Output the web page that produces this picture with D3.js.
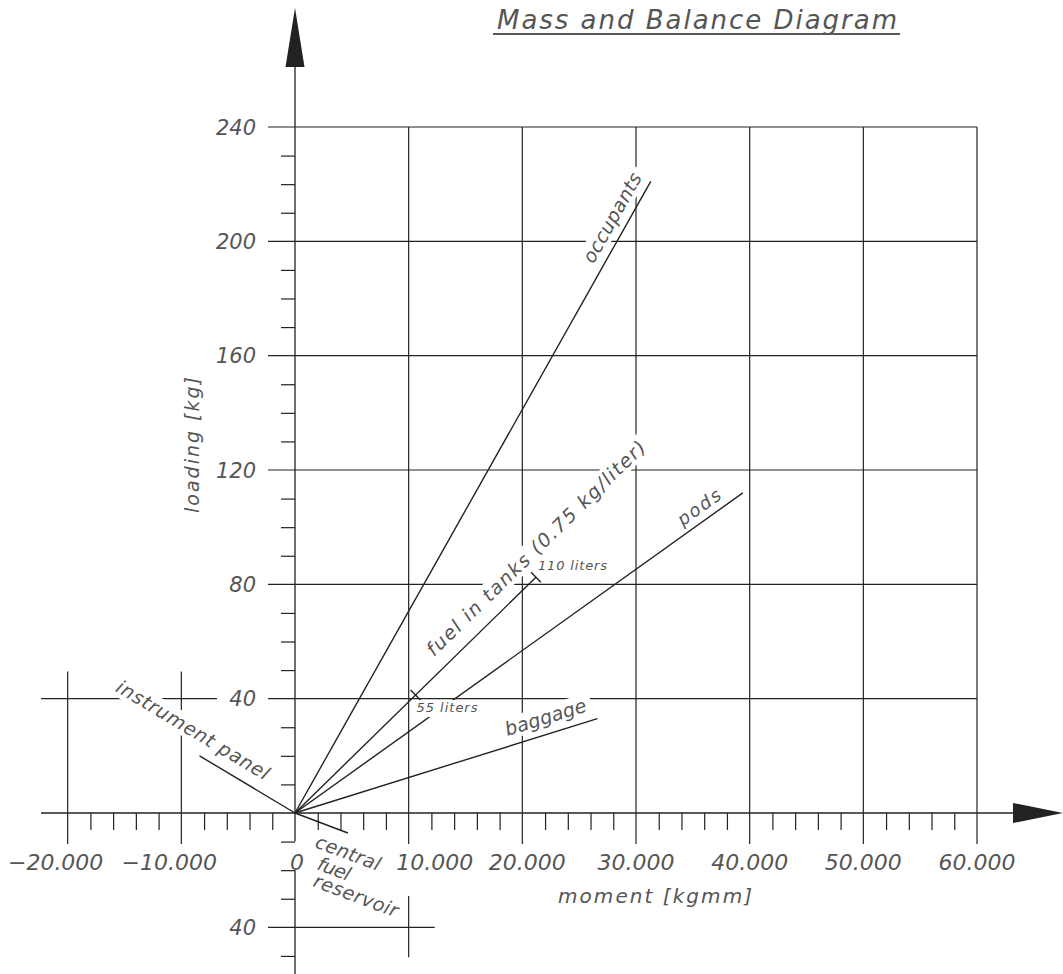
<!DOCTYPE html>
<html><head><meta charset="utf-8">
<script src="https://cdn.jsdelivr.net/npm/d3@7"></script>
<style>
body{margin:0;background:#fff}
text{font-family:"DejaVu Sans","Open Sans",sans-serif;font-style:italic;font-weight:200;fill:#555}
</style></head><body>
<svg id="c" width="1063" height="974"></svg>
<script>
// ---------------- data ----------------
const lineNames   = ["occupants", "fuel in tanks", "pods", "baggage", "instrument panel", "central fuel reservoir"];
const endMoments  = [31300, 21200, 39400, 26600, -8400, 4650];   // kgmm
const endLoads    = [221, 82.5, 112, 33, 20, -7];                 // kg (negative: drawn below axis)
const fuelDensity = 0.75;                                         // kg/liter
const fuelMarkLiters  = [55, 110];
const fuelMarkMoments = [10600, 21200];
const xTickValues = [-20000, -10000, 0, 10000, 20000, 30000, 40000, 50000, 60000];
const xTickLabels = ["\u221220.000", "\u221210.000", "0", "10.000", "20.000", "30.000", "40.000", "50.000", "60.000"];
const yTickValues = [40, 80, 120, 160, 200, 240];
const yTickLabels = ["40", "80", "120", "160", "200", "240"];
const lowerTickValues = [-40];
const lowerTickLabels = ["40"];
const titleText = "Mass and Balance Diagram";
const xTitle = "moment [kgmm]";
const yTitle = "loading [kg]";

// ---------------- layout ----------------
const x = d3.scaleLinear().domain([0, 60000]).range([295, 977]);
const y = d3.scaleLinear().domain([0, 240]).range([813, 127]);
const INK = "#222";
const svg = d3.select("#c");
const gGrid = svg.append("g").attr("stroke", INK).attr("stroke-width", 1.2).attr("fill", "none");
const gAxis = svg.append("g").attr("stroke", INK).attr("stroke-width", 1.3).attr("fill", "none");
const gData = svg.append("g").attr("stroke", INK).attr("stroke-width", 1.4).attr("fill", "none");
const gBox  = svg.append("g");
const gText = svg.append("g");

const seg = (g, x1, y1, x2, y2) => g.append("line").attr("x1", x1).attr("y1", y1).attr("x2", x2).attr("y2", y2);

// horizontal grid lines
yTickValues.forEach(v => {
  const left = v === 40 ? x(-22340) : x(0) - 31;
  seg(gGrid, left, y(v), x(60000), y(v));
});
// vertical grid lines
xTickValues.filter(v => v !== 0).forEach(v => {
  const top = v > 0 ? y(240) : y(49.5);
  seg(gGrid, x(v), top, x(v), y(0) + 31);
});
// lower small cross
lowerTickValues.forEach(v => {
  seg(gGrid, x(0) - 27, y(v), x(12300), y(v));
});
seg(gGrid, x(10000), y(-29), x(10000), y(-50.5));

// axes lines
seg(gAxis, x(-22340), y(0), 1013, y(0));
seg(gAxis, x(0), 67, x(0), y(-10));
seg(gAxis, x(0), y(-20), x(0), 974);
// arrows
gAxis.append("path").attr("fill", INK).attr("stroke", "none")
  .attr("d", `M${x(0)},8 L${x(0) + 9.5},67 L${x(0) - 9.5},67 Z`);
gAxis.append("path").attr("fill", INK).attr("stroke", "none")
  .attr("d", `M1063,${y(0)} L1013,${y(0) - 10} L1013,${y(0) + 10} Z`);

// minor ticks through d3 axes
const minorX = d3.range(-20000, 60001, 2000).filter(v => v % 10000 !== 0);
svg.append("g").attr("transform", `translate(0,${y(0)})`)
  .call(d3.axisBottom(x).tickValues(minorX).tickSize(17).tickFormat(""))
  .call(g => { g.select(".domain").remove(); g.selectAll("line").attr("stroke", INK).attr("stroke-width", 1.2); });
const minorY = d3.range(10, 240, 10).filter(v => v % 40 !== 0).concat([-10, -20, -30, -50]);
svg.append("g").attr("transform", `translate(${x(0)},0)`)
  .call(d3.axisLeft(y).tickValues(minorY).tickSize(14).tickFormat(""))
  .call(g => { g.select(".domain").remove(); g.selectAll("line").attr("stroke", INK).attr("stroke-width", 1.2); });

// data lines
const lineGen = d3.line().x(d => x(d[0])).y(d => y(d[1]));
lineNames.forEach((n, i) => {
  gData.append("path").attr("d", lineGen([[0, 0], [endMoments[i], endLoads[i]]]));
});
// fuel marks
(function () {
  const i = 1;
  const dx = x(endMoments[i]) - x(0), dy = y(endLoads[i]) - y(0), L = Math.hypot(dx, dy);
  const px = -dy / L, py = dx / L;
  fuelMarkLiters.forEach((l, k) => {
    const cx = x(fuelMarkMoments[k]), cy = y(l * fuelDensity);
    seg(gData, cx - 7 * px, cy - 7 * py, cx + 7 * px, cy + 7 * py);
    gText.append("text").attr("font-size", 13).attr("textLength", k === 0 ? 61 : 69)
      .attr("x", k === 0 ? cx + 1 : cx + 2).attr("y", k === 0 ? cy + 17 : cy - 7).text(`${l} liters`);
    if (k === 0) gBox.append("rect").attr("x", cx + 4).attr("y", cy + 5).attr("width", 62).attr("height", 17).attr("fill", "#fff");
    else gBox.append("rect").attr("x", cx).attr("y", cy - 19).attr("width", 76).attr("height", 15).attr("fill", "#fff");
  });
})();

// labels along lines
function alongLabel(i, t, off, txt, size, len, boxH) {
  const x0 = x(0), y0 = y(0), x1 = x(endMoments[i]), y1 = y(endLoads[i]);
  const dx = x1 - x0, dy = y1 - y0, L = Math.hypot(dx, dy);
  let rx = dx / L, ry = dy / L;
  if (rx < 0) { rx = -rx; ry = -ry; }
  const nx = ry, ny = -rx;
  const cx = x0 + t * dx + off * nx, cy = y0 + t * dy + off * ny;
  const ang = Math.atan2(ry, rx) * 180 / Math.PI;
  gBox.append("rect").attr("transform", `translate(${cx},${cy}) rotate(${ang})`)
    .attr("x", -len / 2 - 6).attr("y", -boxH / 2).attr("width", len + 12).attr("height", boxH).attr("fill", "#fff");
  gText.append("text").attr("transform", `translate(${cx},${cy}) rotate(${ang})`)
    .attr("text-anchor", "middle").attr("dy", "0.36em").attr("font-size", size)
    .attr("textLength", len).attr("lengthAdjust", "spacing").text(txt);
}
alongLabel(0, 0.93, 16, lineNames[0], 19, 100, 22);
alongLabel(1, 1.06, 21, `${lineNames[1]} (${fuelDensity} kg/liter)`, 19, 298, 22);
alongLabel(2, 0.92, 14, lineNames[2], 18, 49, 19);
alongLabel(3, 0.845, 17, lineNames[3], 19, 84, 22);
alongLabel(4, 1.17, 19, lineNames[4], 19, 175, 22);

// central fuel reservoir: three stacked words
(function () {
  const i = 5;
  const ang = Math.atan2(y(endLoads[i]) - y(0), x(endMoments[i]) - x(0)) * 180 / Math.PI;
  const words = lineNames[i].split(" ");
  const offs = [[19, 34], [21, 56], [17, 73]];
  const lens = [68, 34, 89];
  words.forEach((w, k) => {
    gText.append("text").attr("transform", `translate(${x(0) + offs[k][0]},${y(0) + offs[k][1]}) rotate(${ang})`)
      .attr("font-size", 19).attr("textLength", lens[k]).attr("lengthAdjust", "spacing").text(w);
  });
})();

// y tick labels
function yLabel(v, lab) {
  gBox.append("rect").attr("x", x(0) - 78).attr("y", y(v) - 10).attr("width", 51).attr("height", 20).attr("fill", "#fff");
  gText.append("text").attr("x", x(0) - 39).attr("y", y(v)).attr("dy", "0.36em")
    .attr("text-anchor", "end").attr("font-size", 21).text(lab);
}
yTickValues.forEach((v, k) => yLabel(v, yTickLabels[k]));
lowerTickValues.forEach((v, k) => yLabel(v, lowerTickLabels[k]));

// x tick labels
const xNudge = { "-20000": -12, "-10000": -12, "0": 2, "10000": 26, "20000": 5 };
xTickValues.forEach((v, k) => {
  gText.append("text").attr("x", x(v) + (xNudge[v] || 0)).attr("y", 870)
    .attr("text-anchor", "middle").attr("font-size", 22).text(xTickLabels[k]);
});

// axis titles
gText.append("text").attr("x", 655).attr("y", 903).attr("text-anchor", "middle")
  .attr("font-size", 20).attr("textLength", 194).text(xTitle);
gText.append("text").attr("transform", "translate(192,445) rotate(-90)").attr("text-anchor", "middle")
  .attr("dy", "0.36em").attr("font-size", 19).attr("textLength", 136).text(yTitle);

// title
gText.append("text").attr("x", 497).attr("y", 29).attr("font-size", 26)
  .attr("textLength", 400).attr("lengthAdjust", "spacing").text(titleText);
seg(gAxis, 493, 34, 900, 34).attr("stroke-width", 1.3);
</script>
</body></html>
